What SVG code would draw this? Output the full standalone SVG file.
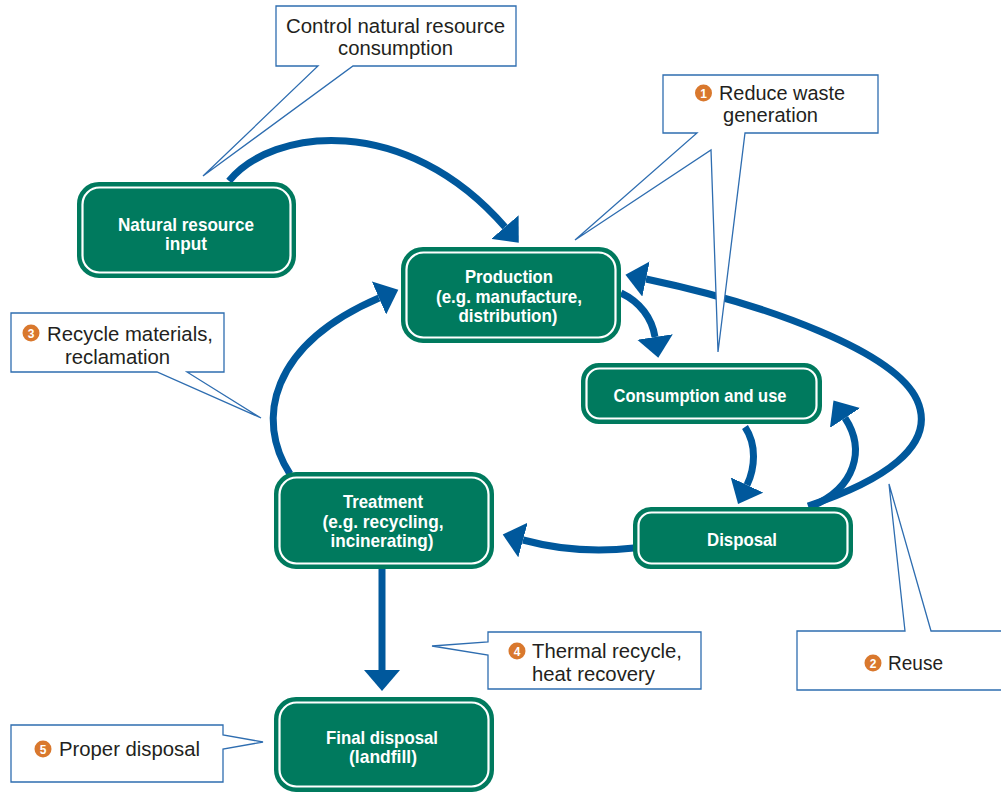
<svg xmlns="http://www.w3.org/2000/svg" width="1001" height="792" viewBox="0 0 1001 792">
<style>
.node-o{fill:#007A5E;stroke:#007A5E;stroke-width:2}
.node-i{fill:none;stroke:#ffffff;stroke-width:2.2}
.nt{font-family:"Liberation Sans",Arial,sans-serif;font-weight:bold;font-size:19px;fill:#ffffff;text-anchor:middle}
.co{fill:#ffffff;stroke:#2E6DB0;stroke-width:1.3;stroke-linejoin:miter}
.ct{font-family:"Liberation Sans",Arial,sans-serif;font-size:20.5px;fill:#231F20}
.num{fill:#D9782D}
.nd{font-family:"Liberation Sans",Arial,sans-serif;font-weight:bold;font-size:12px;fill:#ffffff;text-anchor:middle}
.ar{fill:none;stroke:#00589C;stroke-width:7;marker-end:url(#ah)}
</style>
<defs>
<marker id="ah" markerUnits="userSpaceOnUse" markerWidth="22" markerHeight="36" refX="0" refY="18" orient="auto" viewBox="0 0 22 36">
<path d="M0,0 L21,18 L0,36 Z" fill="#00589C"/>
</marker>
</defs>
<rect width="1001" height="792" fill="#ffffff"/>

<g id="connectors">
<path class="ar" d="M229,181 C272,128 405,112 505,227"/>
<path class="ar" d="M621,293 C640,302 652,318 655,337"/>
<path class="ar" d="M745,427 C757,445 755,468 747,485"/>
<path class="ar" d="M808,506 C880,482 938,447 917,400 C895,352 770,305 646,279"/>
<path class="ar" d="M812,506 C855,488 866,450 845,418"/>
<path class="ar" d="M634,548 C600,552 560,550 523,540"/>
<path class="ar" d="M290,474 C255,420 270,345 379,298"/>
<path class="ar" d="M382,568 L382,670"/>
</g>

<g id="natural-resource-input">
<rect class="node-o" x="78" y="183" width="217" height="94" rx="21"/>
<rect class="node-i" x="82.5" y="187.5" width="208" height="85" rx="17"/>
<text class="nt"><tspan x="186" y="231" textLength="136" lengthAdjust="spacingAndGlyphs">Natural resource</tspan><tspan x="186" y="250" textLength="42" lengthAdjust="spacingAndGlyphs">input</tspan></text>
</g>

<g id="production">
<rect class="node-o" x="402" y="248" width="218" height="94" rx="21"/>
<rect class="node-i" x="406.5" y="252.5" width="209" height="85" rx="17"/>
<text class="nt"><tspan x="509" y="283" textLength="88" lengthAdjust="spacingAndGlyphs">Production</tspan><tspan x="509" y="303" textLength="146" lengthAdjust="spacingAndGlyphs">(e.g. manufacture,</tspan><tspan x="508" y="322" textLength="99" lengthAdjust="spacingAndGlyphs">distribution)</tspan></text>
</g>

<g id="consumption-and-use">
<rect class="node-o" x="582" y="364" width="239" height="59" rx="17"/>
<rect class="node-i" x="586.5" y="368.5" width="230" height="50" rx="13"/>
<text class="nt"><tspan x="700" y="402" textLength="173" lengthAdjust="spacingAndGlyphs">Consumption and use</tspan></text>
</g>

<g id="disposal">
<rect class="node-o" x="634" y="508" width="218" height="60" rx="17"/>
<rect class="node-i" x="638.5" y="512.5" width="209" height="51" rx="13"/>
<text class="nt"><tspan x="742" y="546" textLength="70" lengthAdjust="spacingAndGlyphs">Disposal</tspan></text>
</g>

<g id="treatment">
<rect class="node-o" x="275" y="473" width="218" height="95" rx="21"/>
<rect class="node-i" x="279.5" y="477.5" width="209" height="86" rx="17"/>
<text class="nt"><tspan x="383" y="508" textLength="80" lengthAdjust="spacingAndGlyphs">Treatment</tspan><tspan x="383" y="528" textLength="121" lengthAdjust="spacingAndGlyphs">(e.g. recycling,</tspan><tspan x="382" y="547" textLength="103" lengthAdjust="spacingAndGlyphs">incinerating)</tspan></text>
</g>

<g id="final-disposal">
<rect class="node-o" x="275" y="698" width="218" height="93" rx="21"/>
<rect class="node-i" x="279.5" y="702.5" width="209" height="84" rx="17"/>
<text class="nt"><tspan x="382" y="744" textLength="112" lengthAdjust="spacingAndGlyphs">Final disposal</tspan><tspan x="383" y="763" textLength="68" lengthAdjust="spacingAndGlyphs">(landfill)</tspan></text>
</g>

<g id="callout-control">
<path class="co" d="M276,6 H516 V66 H353 L203,176 L318,66 H276 Z"/>
<text class="ct"><tspan x="286" y="33" textLength="219" lengthAdjust="spacingAndGlyphs">Control natural resource</tspan><tspan x="338" y="55" textLength="115" lengthAdjust="spacingAndGlyphs">consumption</tspan></text>
</g>

<g id="callout-reduce">
<path class="co" d="M663,75 H878 V133 H745 L718,352 L711,150 L575,240 L697,133 H663 Z"/>
<circle class="num" cx="703.5" cy="93" r="8.5"/>
<text class="nd" x="703.5" y="97.5">1</text>
<text class="ct"><tspan x="719" y="100" textLength="126" lengthAdjust="spacingAndGlyphs">Reduce waste</tspan><tspan x="723" y="122" textLength="95" lengthAdjust="spacingAndGlyphs">generation</tspan></text>
</g>

<g id="callout-recycle">
<path class="co" d="M11,313 H224 V372 H187 L261,418 L157,372 H11 Z"/>
<circle class="num" cx="31" cy="333" r="8.5"/>
<text class="nd" x="31" y="337.5">3</text>
<text class="ct"><tspan x="47" y="341" textLength="166" lengthAdjust="spacingAndGlyphs">Recycle materials,</tspan><tspan x="65" y="364" textLength="105" lengthAdjust="spacingAndGlyphs">reclamation</tspan></text>
</g>

<g id="callout-reuse">
<path class="co" d="M797,631 H905 L889,484 L931,631 H1003 V690 H797 Z"/>
<circle class="num" cx="873" cy="663" r="8.5"/>
<text class="nd" x="873" y="667.5">2</text>
<text class="ct"><tspan x="888" y="670" textLength="55" lengthAdjust="spacingAndGlyphs">Reuse</tspan></text>
</g>

<g id="callout-thermal">
<path class="co" d="M488,632 H701 V689 H488 V655 L432,646 L488,642 Z"/>
<circle class="num" cx="517" cy="651" r="8.5"/>
<text class="nd" x="517" y="655.5">4</text>
<text class="ct"><tspan x="532" y="658" textLength="150" lengthAdjust="spacingAndGlyphs">Thermal recycle,</tspan><tspan x="532" y="681" textLength="123" lengthAdjust="spacingAndGlyphs">heat recovery</tspan></text>
</g>

<g id="callout-proper">
<path class="co" d="M11,725 H223 V735 L263,742 L223,749 V782 H11 Z"/>
<circle class="num" cx="43" cy="749" r="8.5"/>
<text class="nd" x="43" y="753.5">5</text>
<text class="ct"><tspan x="59" y="756" textLength="141" lengthAdjust="spacingAndGlyphs">Proper disposal</tspan></text>
</g>
</svg>
